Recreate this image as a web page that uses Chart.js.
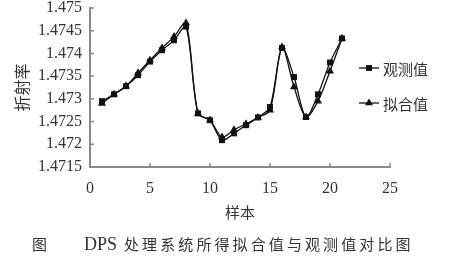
<!DOCTYPE html>
<html>
<head>
<meta charset="utf-8">
<script src="https://cdn.jsdelivr.net/npm/chart.js"></script>
<style>
  html, body { margin: 0; padding: 0; background: #fff; }
  #wrap { position: relative; width: 455px; height: 258px; overflow: hidden; }
  #c { position: absolute; left: 0; top: 0; }
  #caption { position: absolute; top: 234px; left: 0; width: 455px; height: 22px; color: #333; white-space: nowrap; }
  #caption span { position: absolute; top: 0; font-size: 15px; line-height: 20px; }
  #cap1 { left: 32px; font-family: "Noto Sans CJK SC", sans-serif; }
  #cap2 { left: 84px; font-family: "Liberation Serif", serif; font-size: 18px !important; }
  #cap3 { left: 124px; font-family: "Noto Sans CJK SC", sans-serif; letter-spacing: 3.1px; }
</style>
</head>
<body>
<div id="wrap">
  <canvas id="c" width="455" height="258"></canvas>
  <div id="caption"><span id="cap1">图</span><span id="cap2">DPS</span><span id="cap3">处理系统所得拟合值与观测值对比图</span></div>
</div>
<script>
const sampleNo = [1, 2, 3, 4, 5, 6, 7, 8, 9, 10, 11, 12, 13, 14, 15, 16, 17, 18, 19, 20, 21];
const observed = [1.47295, 1.4731, 1.47328, 1.47352, 1.47382, 1.47407, 1.47429, 1.47459, 1.47268, 1.47253, 1.47209, 1.47224, 1.47242, 1.47259, 1.47282, 1.47412, 1.47348, 1.4726, 1.4731, 1.4738, 1.47433];
const fitted   = [1.4729, 1.4731, 1.47328, 1.47357, 1.47385, 1.47412, 1.47437, 1.47467, 1.47268, 1.47253, 1.47216, 1.47232, 1.47245, 1.47259, 1.47275, 1.47414, 1.47326, 1.4726, 1.47295, 1.47361, 1.47433];
const seriesNames = ['观测值', '拟合值'];
const xTicks = [0, 5, 10, 15, 20, 25];
const yTicks = [1.4715, 1.472, 1.4725, 1.473, 1.4735, 1.474, 1.4745, 1.475];
const xTitle = '样本';
const yTitle = '折射率';

const axisColor = '#8a8a8a';
const textColor = '#333';
const lineColor = '#111';

const toPts = arr => sampleNo.map((x, i) => ({ x: x, y: arr[i] }));

function drawMarker(ctx, style, x, y, r) {
  ctx.beginPath();
  if (style === 'rect') {
    const s = Math.SQRT1_2 * r;
    ctx.rect(x - s, y - s, 2 * s, 2 * s);
  } else {
    const a = 2 * Math.PI / 3;
    ctx.moveTo(x, y - r);
    ctx.lineTo(x + Math.sin(a) * r, y - Math.cos(a) * r);
    ctx.lineTo(x - Math.sin(a) * r, y - Math.cos(a) * r);
    ctx.closePath();
  }
  ctx.fill();
}

const innerTicks = {
  id: 'innerTicks',
  afterDraw(chart) {
    const ctx = chart.ctx;
    const xs = chart.scales.x, ys = chart.scales.y;
    ctx.save();
    ctx.strokeStyle = axisColor;
    ctx.lineWidth = 1.5;
    ys.ticks.forEach(t => {
      const p = ys.getPixelForValue(t.value);
      ctx.beginPath(); ctx.moveTo(xs.left, p); ctx.lineTo(xs.left + 4, p); ctx.stroke();
    });
    xs.ticks.forEach(t => {
      const p = xs.getPixelForValue(t.value);
      ctx.beginPath(); ctx.moveTo(p, ys.bottom); ctx.lineTo(p, ys.bottom - 4); ctx.stroke();
    });
    // legend
    const rows = [68, 103];
    chart.data.datasets.forEach((ds, i) => {
      const y = rows[i];
      const x0 = 359, x1 = 379;
      ctx.strokeStyle = lineColor; ctx.lineWidth = 1.3;
      ctx.beginPath(); ctx.moveTo(x0, y); ctx.lineTo(x1, y); ctx.stroke();
      ctx.fillStyle = lineColor;
      drawMarker(ctx, ds.pointStyle, (x0 + x1) / 2, y, ds.pointRadius);
      ctx.fillStyle = textColor;
      ctx.font = '15px "Noto Sans CJK SC", sans-serif';
      ctx.textBaseline = 'middle';
      ctx.textAlign = 'left';
      ctx.fillText(ds.label, 383, y + 1);
    });
    ctx.restore();
  }
};

new Chart(document.getElementById('c'), {
  type: 'line',
  data: {
    datasets: [
      { label: seriesNames[0], data: toPts(observed), borderColor: lineColor, backgroundColor: lineColor,
        borderWidth: 1.3, pointStyle: 'rect', pointRadius: 4.2, pointBorderWidth: 0, tension: 0.3, fill: false },
      { label: seriesNames[1], data: toPts(fitted), borderColor: lineColor, backgroundColor: lineColor,
        borderWidth: 1.3, pointStyle: 'triangle', pointRadius: 4.6, pointBorderWidth: 0, tension: 0.3, fill: false }
    ]
  },
  options: {
    responsive: false,
    animation: false,
    events: [],
    layout: { padding: { left: 0, right: 65, top: 8, bottom: 33 } },
    plugins: { legend: { display: false }, tooltip: { enabled: false } },
    scales: {
      x: {
        type: 'linear', min: 0, max: 25,
        afterBuildTicks: s => { s.ticks = xTicks.map(v => ({ value: v })); },
        afterFit: s => { s.height = 58; s.paddingLeft = 0; s.paddingRight = 0; },
        ticks: { color: textColor, font: { family: '"Liberation Serif", serif', size: 16 }, padding: 12, maxRotation: 0, autoSkip: false },
        grid: { display: true, drawOnChartArea: false, drawTicks: false },
        border: { display: true, color: axisColor, width: 2 },
        title: { display: true, text: xTitle, color: textColor, font: { family: '"Noto Sans CJK SC", sans-serif', size: 15 }, padding: { top: 0, bottom: 4 } }
      },
      y: {
        type: 'linear', min: 1.4715, max: 1.475,
        afterBuildTicks: s => { s.ticks = yTicks.map(v => ({ value: v })); },
        afterFit: s => { s.width = 90; s.paddingTop = 0; s.paddingBottom = 0; },
        ticks: { color: textColor, font: { family: '"Liberation Serif", serif', size: 16 }, padding: 8, autoSkip: false,
                 callback: v => String(Number(v.toFixed(4))) },
        grid: { display: true, drawOnChartArea: false, drawTicks: false },
        border: { display: true, color: axisColor, width: 2 },
        title: { display: true, text: yTitle, color: textColor, font: { family: '"Noto Sans CJK SC", sans-serif', size: 16 }, padding: { top: 12, bottom: 0 } }
      }
    }
  },
  plugins: [innerTicks]
});
</script>
</body>
</html>
